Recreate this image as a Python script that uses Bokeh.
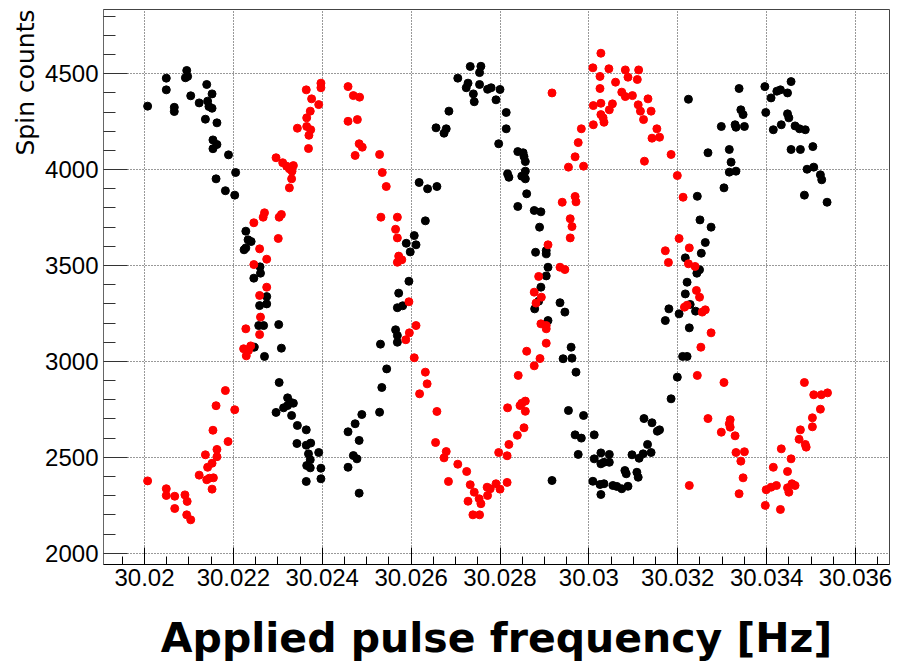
from bokeh.plotting import figure
from bokeh.models import FixedTicker, CustomJSTickFormatter, Range1d, Title
from bokeh.embed import file_html
from bokeh.resources import INLINE

# ---- data ----
black_freq = [
    30.02007, 30.02049, 30.02049, 30.02067, 30.02067, 30.02095, 30.02092, 30.02097, 30.02104, 30.02123,
    30.02140, 30.02152, 30.02142, 30.02145, 30.02152, 30.02137, 30.02163, 30.02154, 30.02163, 30.02154,
    30.02189, 30.02205, 30.02161, 30.02182, 30.02203, 30.02228, 30.02233, 30.02240, 30.02224, 30.02228,
    30.02260, 30.02261, 30.02246, 30.02275, 30.02275, 30.02259, 30.02257, 30.02268, 30.02302, 30.02247,
    30.02308, 30.02270, 30.02303, 30.02322, 30.02328, 30.02335, 30.02313, 30.02322, 30.02296, 30.02331,
    30.02344, 30.02343, 30.02364, 30.02364, 30.02369, 30.02374, 30.02373, 30.02365, 30.02373, 30.02392,
    30.02397, 30.02397, 30.02364, 30.02458, 30.02458, 30.02470, 30.02478, 30.02483, 30.02483, 30.02474,
    30.02489, 30.02529, 30.02534, 30.02545, 30.02531, 30.02565, 30.02569, 30.02569, 30.02569, 30.02581,
    30.02572, 30.02595, 30.02598, 30.02589, 30.02607, 30.02611, 30.02632, 30.02618, 30.02637, 30.02658,
    30.02656, 30.02679, 30.02674, 30.02685, 30.02705, 30.02733, 30.02757, 30.02754, 30.02728, 30.02724,
    30.02754, 30.02772, 30.02740, 30.02742, 30.02780, 30.02800, 30.02791, 30.02814, 30.02814, 30.02797,
    30.02840, 30.02852, 30.02854, 30.02857, 30.02817, 30.02820, 30.02849, 30.02857, 30.02857, 30.02860,
    30.02840, 30.02877, 30.02892, 30.02889, 30.02880, 30.02904, 30.02904, 30.02908, 30.02904, 30.02892,
    30.02887, 30.02878, 30.02935, 30.02946, 30.02908, 30.02960, 30.02942, 30.02962, 30.02971, 30.02954,
    30.02988, 30.02969, 30.02983, 30.02976, 30.02917, 30.03012, 30.03012, 30.03027, 30.03046, 30.03027,
    30.03034, 30.03046, 30.03009, 30.03025, 30.03034, 30.03027, 30.03054, 30.03063, 30.03074, 30.03088,
    30.03081, 30.03084, 30.03108, 30.03111, 30.03097, 30.03113, 30.03122, 30.03140, 30.03132, 30.03124,
    30.03142, 30.03154, 30.03159, 30.03185, 30.03199, 30.03172, 30.03180, 30.03203, 30.03211, 30.03221,
    30.03226, 30.03217, 30.03221, 30.03228, 30.03240, 30.03243, 30.03249, 30.03253, 30.03262, 30.03250,
    30.03275, 30.03217, 30.03244, 30.03304, 30.03268, 30.03224, 30.03316, 30.03320, 30.03316, 30.03331,
    30.03298, 30.03329, 30.03331, 30.03350, 30.03338, 30.03342, 30.03347, 30.03396, 30.03398, 30.03415,
    30.03410, 30.03423, 30.03431, 30.03447, 30.03455, 30.03433, 30.03447, 30.03450, 30.03464, 30.03474,
    30.03487, 30.03455, 30.03476, 30.03504, 30.03491, 30.03506, 30.03521, 30.03524, 30.03485, 30.03536,
]
black_counts = [
    4331, 4477, 4416, 4325, 4303, 4517, 4479, 4486, 4385, 4348,
    4444, 4395, 4357, 4329, 4320, 4263, 4244, 4155, 4131, 4109,
    4077, 3985, 3952, 3890, 3867, 3679, 3634, 3625, 3582, 3592,
    3493, 3460, 3434, 3338, 3300, 3291, 3187, 3187, 3192, 3074,
    3069, 3026, 2890, 2810, 2787, 2782, 2758, 2770, 2734, 2718,
    2666, 2572, 2643, 2563, 2518, 2574, 2487, 2457, 2445, 2525,
    2443, 2388, 2374, 2633, 2448, 2509, 2492, 2588, 2313, 2675,
    2723, 2735, 2864, 2961, 3090, 3165, 3135, 3100, 3280, 3290,
    3356, 3418, 3571, 3616, 3656, 3608, 3733, 3933, 3900, 3912,
    4218, 4213, 4190, 4305, 4477, 4538, 4539, 4506, 4451, 4427,
    4444, 4419, 4395, 4354, 4427, 4418, 4364, 4298, 4213, 4135,
    4094, 4088, 4068, 4042, 3978, 3960, 3966, 3992, 3952, 3874,
    3808, 3787, 3780, 3700, 3569, 3578, 3561, 3491, 3446, 3387,
    3314, 3274, 3306, 3257, 3213, 3074, 3014, 3017, 2944, 2744,
    2718, 2617, 2600, 2515, 2379, 2617, 2492, 2523, 2515, 2466,
    2474, 2474, 2375, 2358, 2362, 2306, 2353, 2348, 2336, 2349,
    2431, 2414, 2422, 2396, 2513, 2495, 2518, 2525, 2567, 2702,
    2680, 2636, 2643, 2805, 2918, 3213, 3274, 3248, 3026, 3026,
    3175, 3352, 3413, 3297, 3262, 3460, 3478, 3564, 3620, 3738,
    3700, 3540, 3861, 3905, 4088, 4367, 4105, 4039, 3987, 3992,
    4225, 4234, 4221, 4225, 4423, 4312, 4287, 4433, 4298, 4208,
    4374, 4409, 4416, 4400, 4459, 4234, 4291, 4270, 4228, 4213,
    4208, 4105, 4105, 4120, 4002, 4013, 3973, 3947, 3867, 3830,
]

red_freq = [
    30.02007, 30.02049, 30.02049, 30.02068, 30.02068, 30.02091, 30.02096, 30.02095, 30.02104, 30.02123,
    30.02140, 30.02146, 30.02155, 30.02152, 30.02152, 30.02142, 30.02163, 30.02163, 30.02137, 30.02188,
    30.02154, 30.02203, 30.02161, 30.02182, 30.02223, 30.02234, 30.02229, 30.02239, 30.02228, 30.02259,
    30.02261, 30.02259, 30.02275, 30.02246, 30.02275, 30.02259, 30.02301, 30.02246, 30.02270, 30.02267,
    30.02308, 30.02303, 30.02326, 30.02331, 30.02296, 30.02311, 30.02320, 30.02326, 30.02335, 30.02332,
    30.02344, 30.02365, 30.02374, 30.02370, 30.02369, 30.02364, 30.02397, 30.02397, 30.02376, 30.02392,
    30.02373, 30.02365, 30.02458, 30.02470, 30.02484, 30.02458, 30.02479, 30.02483, 30.02490, 30.02474,
    30.02529, 30.02535, 30.02544, 30.02532, 30.02569, 30.02565, 30.02569, 30.02572, 30.02579, 30.02569,
    30.02595, 30.02611, 30.02596, 30.02588, 30.02607, 30.02632, 30.02636, 30.02619, 30.02658, 30.02655,
    30.02679, 30.02674, 30.02705, 30.02725, 30.02684, 30.02733, 30.02742, 30.02728, 30.02753, 30.02757,
    30.02739, 30.02754, 30.02771, 30.02772, 30.02791, 30.02800, 30.02778, 30.02816, 30.02797, 30.02816,
    30.02820, 30.02839, 30.02854, 30.02817, 30.02849, 30.02857, 30.02857, 30.02845, 30.02841, 30.02877,
    30.02890, 30.02860, 30.02904, 30.02892, 30.02904, 30.02904, 30.02877, 30.02893, 30.02881, 30.02887,
    30.02935, 30.02946, 30.02908, 30.02958, 30.02962, 30.02958, 30.02940, 30.02969, 30.02971, 30.02954,
    30.02988, 30.02969, 30.02976, 30.02983, 30.03010, 30.03027, 30.03032, 30.03034, 30.03027, 30.03010,
    30.03053, 30.03046, 30.03025, 30.03025, 30.03009, 30.03045, 30.03027, 30.03060, 30.03082, 30.03112,
    30.03088, 30.03109, 30.03074, 30.03082, 30.03098, 30.03133, 30.03111, 30.03116, 30.03140, 30.03123,
    30.03153, 30.03142, 30.03159, 30.03125, 30.03185, 30.03199, 30.03212, 30.03203, 30.03172, 30.03179,
    30.03226, 30.03224, 30.03239, 30.03242, 30.03249, 30.03221, 30.03215, 30.03255, 30.03262, 30.03275,
    30.03252, 30.03244, 30.03226, 30.03304, 30.03268, 30.03318, 30.03316, 30.03318, 30.03298, 30.03329,
    30.03331, 30.03350, 30.03342, 30.03347, 30.03338, 30.03485, 30.03506, 30.03523, 30.03537, 30.03521,
    30.03503, 30.03503, 30.03476, 30.03473, 30.03487, 30.03489, 30.03433, 30.03455, 30.03415, 30.03447,
    30.03399, 30.03410, 30.03422, 30.03447, 30.03457, 30.03464, 30.03450, 30.03397, 30.03431, 30.02917,
]
red_counts = [
    2377, 2336, 2301, 2297, 2233, 2304, 2270, 2200, 2174, 2407,
    2383, 2391, 2393, 2334, 2469, 2448, 2541, 2503, 2513, 2582,
    2641, 2748, 2769, 2848, 3066, 3057, 3029, 3081, 3170, 3140,
    3231, 3344, 3387, 3505, 3533, 3587, 3641, 3723, 3775, 3752,
    3766, 3752, 3905, 3952, 4062, 4036, 4018, 4004, 4021, 3992,
    4216, 4225, 4208, 4179, 4110, 4416, 4451, 4427, 4369, 4339,
    4305, 4270, 4433, 4386, 4378, 4252, 4261, 4135, 4117, 4074,
    4079, 3985, 3912, 3752, 3752, 3689, 3644, 3549, 3530, 3517,
    3311, 3187, 3149, 3113, 3019, 2944, 2883, 2831, 2739, 2577,
    2530, 2497, 2464, 2426, 2374, 2357, 2318, 2271, 2284, 2258,
    2200, 2200, 2344, 2301, 2362, 2334, 2336, 2369, 2525, 2508,
    2567, 2615, 2654, 2758, 2782, 2793, 2740, 2770, 2927, 2977,
    3015, 3053, 3095, 3196, 3187, 3170, 3361, 3335, 3304, 3443,
    3491, 3479, 3608, 3644, 3703, 3744, 3830, 3860, 3832, 4013,
    4018, 4067, 4141, 4213, 4234, 4287, 4270, 4247, 4346, 4334,
    4343, 4312, 4423, 4486, 4531, 4526, 4607, 4456, 4520, 4520,
    4482, 4470, 4404, 4381, 4386, 4369, 4338, 4305, 4305, 4261,
    4213, 4164, 4169, 4044, 4079, 3969, 3856, 3641, 3577, 3516,
    3592, 3509, 3495, 3370, 3335, 3293, 3283, 3257, 3269, 3149,
    3074, 2927, 2353, 2890, 2702, 2696, 2675, 2657, 2631, 2612,
    2525, 2529, 2480, 2393, 2310, 2890, 2826, 2826, 2836, 2751,
    2706, 2659, 2643, 2594, 2567, 2553, 2544, 2492, 2448, 2426,
    2331, 2344, 2353, 2341, 2362, 2353, 2318, 2249, 2228, 4400,
]

x_major_ticks = [30.020, 30.022, 30.024, 30.026, 30.028, 30.030, 30.032, 30.034, 30.036]
x_minor_ticks = [30.0195, 30.0205, 30.0210, 30.0215, 30.0225, 30.0230, 30.0235, 30.0245,
                 30.0250, 30.0255, 30.0265, 30.0270, 30.0275, 30.0285, 30.0290, 30.0295,
                 30.0305, 30.0310, 30.0315, 30.0325, 30.0330, 30.0335, 30.0345, 30.0350,
                 30.0355, 30.0365]
y_major_ticks = [2000, 2500, 3000, 3500, 4000, 4500]
y_minor_ticks = [2100, 2200, 2300, 2400, 2600, 2700, 2800, 2900, 3100, 3200, 3300, 3400,
                 3600, 3700, 3800, 3900, 4100, 4200, 4300, 4400, 4600, 4700, 4800]

x_title = "Applied pulse frequency [Hz]"
y_title = "Spin counts"

# ---- figure ----
p = figure(width=905, height=672, output_backend="svg", toolbar_location=None,
           x_range=Range1d(30.019077, 30.036765), y_range=Range1d(1941, 4835),
           min_border_left=103, min_border_right=16, min_border_top=9, min_border_bottom=108)
p.background_fill_color = "white"
p.border_fill_color = "white"
p.outline_line_color = "#444444"
p.outline_line_width = 1

p.scatter(black_freq, black_counts, marker="circle", size=8, fill_color="black", line_color="black")
p.scatter(red_freq, red_counts, marker="circle", size=8, fill_color="#ff0000", line_color="#ff0000")

# axes
xa = p.xaxis[0]
xa.ticker = FixedTicker(ticks=x_major_ticks, minor_ticks=x_minor_ticks)
xa.formatter = CustomJSTickFormatter(code="return parseFloat(tick.toFixed(3)).toString();")
xa.major_tick_in = 17
xa.major_tick_out = 0
xa.minor_tick_in = 8
xa.minor_tick_out = 0
xa.axis_line_color = "black"
xa.major_tick_line_color = "black"
xa.minor_tick_line_color = "black"
xa.major_label_text_font = "Liberation Sans"
xa.major_label_text_font_size = "24px"
xa.major_label_text_color = "black"
xa.major_label_standoff = 4
xa.axis_label = x_title
xa.axis_label_text_font = "DejaVu Sans"
xa.axis_label_text_font_size = "41px"
xa.axis_label_text_font_style = "bold"
xa.axis_label_text_color = "black"
xa.axis_label_standoff = 25

ya = p.yaxis[0]
ya.ticker = FixedTicker(ticks=y_major_ticks, minor_ticks=y_minor_ticks)
ya.major_tick_in = 24
ya.major_tick_out = 0
ya.minor_tick_in = 12
ya.minor_tick_out = 0
ya.axis_line_color = "#666666"
ya.major_tick_line_color = "#333333"
ya.minor_tick_line_color = "#333333"
ya.major_label_text_font = "Liberation Sans"
ya.major_label_text_font_size = "24px"
ya.major_label_text_color = "black"
ya.major_label_standoff = 5

for g in (p.xgrid[0], p.ygrid[0]):
    g.grid_line_color = "#333333"
    g.grid_line_dash = "1 2"
    g.grid_line_width = 1
p.xgrid[0].ticker = FixedTicker(ticks=x_major_ticks)
p.ygrid[0].ticker = FixedTicker(ticks=y_major_ticks)

p.add_layout(Title(text=y_title, align="right", text_font="DejaVu Sans", text_font_size="25px",
                   text_font_style="normal", text_color="black", standoff=5), "left")

open("out.html", "w").write(file_html(p, INLINE))
